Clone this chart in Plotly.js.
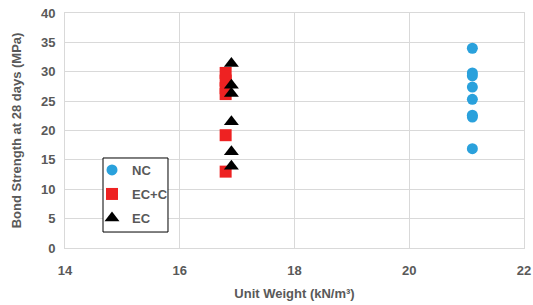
<!DOCTYPE html>
<html>
<head>
<meta charset="utf-8">
<script src="https://cdn.plot.ly/plotly-3.0.1.min.js"></script>
<style>html,body{margin:0;padding:0;background:#fff;}#chart{width:533px;height:305px;}</style>
</head>
<body>
<div id="chart"></div>
<script>
const ncX = [21.1, 21.1, 21.1, 21.1, 21.1, 21.1, 21.1, 21.1];
const ncY = [34.0, 29.8, 29.3, 27.4, 25.3, 22.6, 22.3, 16.9];
const eccX = [16.8, 16.8, 16.8, 16.8, 16.8, 16.8];
const eccY = [29.8, 28.5, 27.2, 26.2, 19.2, 13.0];
const ecX = [16.9, 16.9, 16.9, 16.9, 16.9, 16.9];
const ecY = [31.4, 27.7, 26.3, 21.5, 16.4, 13.9];
const xTicks = [14, 16, 18, 20, 22];
const yTicks = [0, 5, 10, 15, 20, 25, 30, 35, 40];

const font = "Liberation Sans, Arial, sans-serif";
const traces = [
  {x: ncX, y: ncY, name: 'NC', type: 'scatter', mode: 'markers', legend: 'legend',
   marker: {symbol: 'circle', size: 11, color: '#2aa1dc'}},
  {x: eccX, y: eccY, name: 'EC+C', type: 'scatter', mode: 'markers', legend: 'legend2',
   marker: {symbol: 'square', size: 12, color: '#ee2222'}},
  {x: ecX, y: ecY, name: 'EC', type: 'scatter', mode: 'markers', legend: 'legend3',
   marker: {symbol: 'triangle-up', size: 13, color: '#000000'}}
];
const legBase = {xanchor: 'left', yanchor: 'top', borderwidth: 0, bgcolor: 'rgba(0,0,0,0)',
  font: {family: font, size: 13, color: '#595959', weight: 'bold'}};
const layout = {
  width: 533, height: 305,
  margin: {l: 65, r: 9, t: 13, b: 57},
  paper_bgcolor: '#ffffff', plot_bgcolor: '#ffffff',
  font: {family: font, size: 13, color: '#595959'},
  showlegend: true,
  legend: Object.assign({x: 0.0588, y: 0.3957}, legBase),
  legend2: Object.assign({x: 0.0588, y: 0.2936}, legBase),
  legend3: Object.assign({x: 0.0588, y: 0.1915}, legBase),
  shapes: [{type: 'rect', xref: 'paper', yref: 'paper',
    x0: 0.0828, x1: 0.2244, y0: 0.068, y1: 0.383,
    line: {color: '#000000', width: 1}, fillcolor: '#ffffff', layer: 'above'}],
  xaxis: {range: [14, 22], tickvals: xTicks, ticktext: xTicks.map(String),
    showgrid: true, gridcolor: '#d9d9d9', zeroline: false,
    showline: true, linecolor: '#d9d9d9', mirror: true, ticks: '',
    ticklabelstandoff: 10,
    tickfont: {family: font, size: 13, color: '#595959', weight: 'bold'},
    title: {text: 'Unit Weight (kN/m³)', standoff: 12,
      font: {family: font, size: 13, color: '#595959', weight: 'bold'}}},
  yaxis: {range: [0, 40], tickvals: yTicks, ticktext: yTicks.map(String),
    showgrid: true, gridcolor: '#d9d9d9', zeroline: false,
    showline: true, linecolor: '#d9d9d9', mirror: true, ticks: '',
    ticklabelstandoff: 6,
    tickfont: {family: font, size: 13, color: '#595959', weight: 'bold'},
    title: {text: 'Bond Strength at 28 days (MPa)', standoff: 16,
      font: {family: font, size: 13, color: '#595959', weight: 'bold'}}}
};
Plotly.newPlot('chart', traces, layout, {displayModeBar: false, staticPlot: true});
</script>
</body>
</html>
